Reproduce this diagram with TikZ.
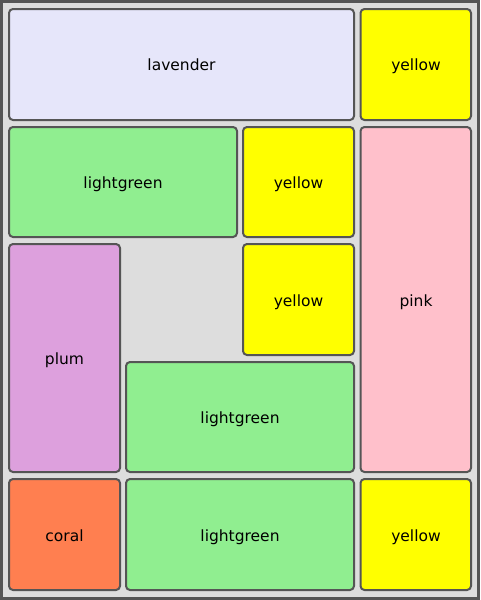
\documentclass[tikz,border=0pt]{standalone}
\usepackage{fontspec}
\setmainfont{DejaVu Sans}
\definecolor{bggray}{HTML}{DDDDDD}
\definecolor{edgegray}{HTML}{555555}
\definecolor{lavender}{HTML}{E6E6FA}
\definecolor{yel}{HTML}{FFFF00}
\definecolor{lgreen}{HTML}{90EE90}
\definecolor{pinkc}{HTML}{FFC0CB}
\definecolor{plumc}{HTML}{DDA0DD}
\definecolor{coralc}{HTML}{FF7F50}
\tikzset{
  cell/.style={draw=edgegray, line width=2pt, rounded corners=4pt},
  lbl/.style={font=\fontsize{15.5}{18}\selectfont, text=black, inner sep=0pt, anchor=base}
}
\begin{document}
\begin{tikzpicture}[x=1pt,y=-1pt]
\useasboundingbox (0,0) rectangle (480,600);
\fill[bggray] (0,0) rectangle (480,600);
\draw[edgegray, line width=3pt] (1.5,1.5) rectangle (478.5,598.5);
\draw[cell, fill=lavender] (9,9) rectangle (354,120);
\node[lbl] (lav) at (181.5,70.5) {lavender};
\draw[cell, fill=yel] (360.5,9) rectangle (471,120);
\node[lbl] (y1) at (416,70.5) {yellow};
\draw[cell, fill=lgreen] (9,127) rectangle (237,237);
\node[lbl] (g1) at (123,188.5) {lightgreen};
\draw[cell, fill=yel] (243,127) rectangle (354,237);
\node[lbl] (y2) at (298.5,188.5) {yellow};
\draw[cell, fill=pinkc] (360.5,127) rectangle (471,472);
\node[lbl] (pk) at (416,306) {pink};
\draw[cell, fill=plumc] (9,244) rectangle (120,472);
\node[lbl] (pl) at (64.5,364.5) {plum};
\draw[cell, fill=yel] (243,244) rectangle (354,355);
\node[lbl] (y3) at (298.5,306) {yellow};
\draw[cell, fill=lgreen] (126,362) rectangle (354,472);
\node[lbl] (g2) at (240,423.5) {lightgreen};
\draw[cell, fill=coralc] (9,479) rectangle (120,590);
\node[lbl] (co) at (64.5,541) {coral};
\draw[cell, fill=lgreen] (126,479) rectangle (354,590);
\node[lbl] (g3) at (240,541) {lightgreen};
\draw[cell, fill=yel] (360.5,479) rectangle (471,590);
\node[lbl] (y4) at (416,541) {yellow};
\end{tikzpicture}
\end{document}
